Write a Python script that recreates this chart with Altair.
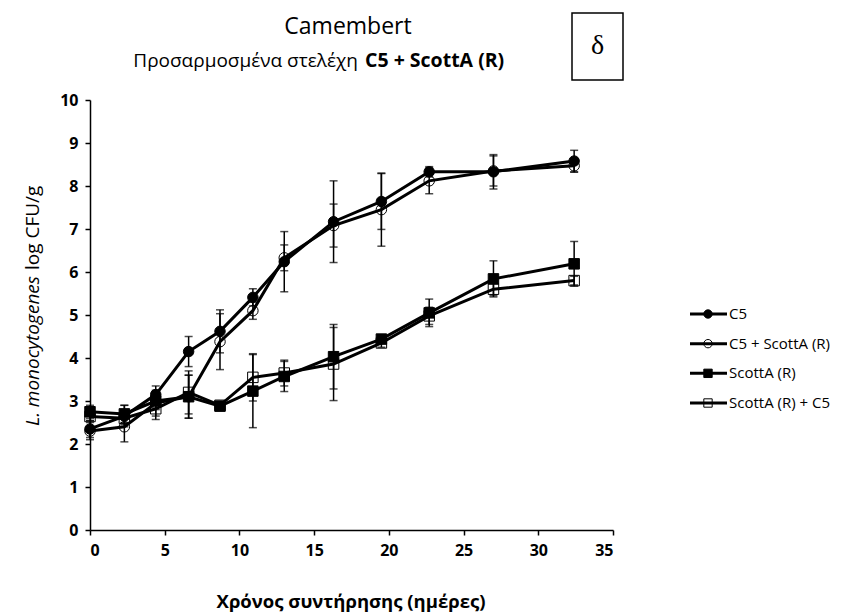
import altair as alt
import pandas as pd

# ---- data (x = position on the drawn day axis) ----
series = ["C5", "C5 + ScottA (R)", "ScottA (R)", "ScottA (R) + C5"]
days = [0, 2.3, 4.4, 6.6, 8.7, 10.9, 13.0, 16.3, 19.5, 22.7, 27.0, 32.4]

c5 = [2.35, 2.65, 3.15, 4.15, 4.62, 5.41, 6.24, 7.17, 7.64, 8.33, 8.33, 8.58]
c5_sd = [0.2, 0.25, 0.2, 0.35, 0.5, 0.2, 0.7, 0.95, 0.65, 0.12, 0.4, 0.25]

c5_scotta = [2.3, 2.4, 2.95, 3.1, 4.38, 5.1, 6.33, 7.08, 7.45, 8.12, 8.35, 8.47]
c5_scotta_sd = [0.2, 0.35, 0.3, 0.5, 0.65, 0.2, 0.3, 0.5, 0.85, 0.3, 0.35, 0.15]

scotta = [2.75, 2.7, 3.0, 3.1, 2.88, 3.23, 3.57, 4.03, 4.44, 5.05, 5.84, 6.19]
scotta_sd = [0.15, 0.2, 0.2, 0.5, 0.05, 0.85, 0.35, 0.75, 0.1, 0.32, 0.42, 0.52]

scotta_c5 = [2.64, 2.6, 2.82, 3.2, 2.9, 3.55, 3.65, 3.86, 4.35, 4.98, 5.6, 5.8]
scotta_c5_sd = [0.1, 0.15, 0.25, 0.5, 0.05, 0.55, 0.3, 0.85, 0.1, 0.2, 0.15, 0.1]

x_ticks = [0, 5, 10, 15, 20, 25, 30, 35]
y_ticks = [0, 1, 2, 3, 4, 5, 6, 7, 8, 9, 10]

values = [c5, c5_scotta, scotta, scotta_c5]
sds = [c5_sd, c5_scotta_sd, scotta_sd, scotta_c5_sd]

rows = []
for s, vals, sd in zip(series, values, sds):
    for d, v, e in zip(days, vals, sd):
        rows.append({"series": s, "day": d, "value": v, "lo": v - e, "hi": v + e})
df = pd.DataFrame(rows)

FONT = "Open Sans"
shape_scale = alt.Scale(domain=series, range=["circle", "circle", "square", "square"])
fill_scale = alt.Scale(domain=series, range=["black", "transparent", "black", "transparent"])

X = alt.X("day:Q", scale=alt.Scale(domain=[0, 35], nice=False),
          axis=alt.Axis(values=x_ticks, title=None, labelPadding=7))
Y = alt.Y("value:Q", scale=alt.Scale(domain=[0, 10], nice=False),
          axis=alt.Axis(values=y_ticks, title=None, labelPadding=7))

base = alt.Chart(df)
err = base.mark_rule(color="black", strokeWidth=1.5).encode(
    x=X, y=alt.Y("lo:Q"), y2="hi:Q")
cap_hi = base.mark_tick(orient="horizontal", color="black", size=8, thickness=1.5).encode(
    x=X, y=alt.Y("hi:Q"))
cap_lo = base.mark_tick(orient="horizontal", color="black", size=8, thickness=1.5).encode(
    x=X, y=alt.Y("lo:Q"))
lines = base.mark_line(color="black", strokeWidth=3).encode(
    x=X, y=Y, detail="series:N")
pts = base.mark_point(filled=True, size=110, stroke="black", strokeWidth=1, opacity=1).encode(
    x=X, y=Y,
    shape=alt.Shape("series:N", scale=shape_scale, legend=None),
    fill=alt.Fill("series:N", scale=fill_scale, legend=None))

data_chart = alt.layer(err, cap_hi, cap_lo, lines, pts)

# ---- manual legend ----
leg_df = pd.DataFrame({"series": series})
LY = alt.Y("series:N", sort=series, axis=None,
           scale=alt.Scale(type="point", range=[214, 303], padding=0))
leg_base = alt.Chart(leg_df)
leg_line = leg_base.mark_rule(color="black", strokeWidth=3).encode(
    x=alt.value(600), x2=alt.value(637), y=LY)
leg_pts = leg_base.mark_point(filled=True, size=70, stroke="black", strokeWidth=1, opacity=1).encode(
    x=alt.value(618), y=LY,
    shape=alt.Shape("series:N", scale=shape_scale, legend=None),
    fill=alt.Fill("series:N", scale=fill_scale, legend=None))
leg_txt = leg_base.mark_text(align="left", baseline="middle", font=FONT, fontSize=15,
                             color="black").encode(
    x=alt.value(639), y=LY, text="series:N")
legend_chart = alt.layer(leg_line, leg_pts, leg_txt)

# ---- titles / annotations ----
one = pd.DataFrame({"k": [0]})


def label(txt, x, y, size, weight="normal", style="normal", align="center", angle=0,
          font=FONT):
    kw = dict(align=align, baseline="middle", font=font, fontSize=size,
              fontWeight=weight, fontStyle=style, color="black")
    if angle:
        kw["angle"] = angle
    return alt.Chart(one).mark_text(**kw).encode(
        x=alt.value(x), y=alt.value(y), text=alt.value(txt))


t1 = label("Camembert", 258, -73, 23)
t2a = label("Προσαρμοσμένα στελέχη", 268, -39, 19, align="right")
t2b = label("C5 + ScottA (R)", 275, -39, 19.5, weight="bold", align="left")
box = alt.Chart(one).mark_rect(fill="white", stroke="black", strokeWidth=1.5).encode(
    x=alt.value(482), x2=alt.value(533), y=alt.value(-87), y2=alt.value(-20))
delta = label("δ", 507.5, -54, 28, font="Liberation Serif")
ytit_a = label("L. monocytogenes", -57, 176, 19, style="italic", align="right", angle=270)
ytit_b = label("log CFU/g", -57, 170, 19, align="left", angle=270)
xtit = label("Χρόνος συντήρησης (ημέρες)", 261, 502, 18.5, weight="bold")

chart = alt.layer(
    data_chart, legend_chart, t1, t2a, t2b, box, delta, ytit_a, ytit_b, xtit
).resolve_scale(
    x="independent", y="independent"
).properties(
    width=523, height=430,
    padding={"left": 90, "top": 100, "right": 234, "bottom": 86},
    autosize=alt.AutoSizeParams(type="none"),
    background="white",
).configure_view(stroke=None).configure_axis(
    grid=False, domainColor="black", domainWidth=1.5, tickColor="black",
    tickWidth=1.5, tickSize=5, labelColor="black", labelFont=FONT,
    labelFontSize=16, labelFontWeight="bold",
)

chart.save("out.html", embed_options={"renderer": "svg", "actions": False})
